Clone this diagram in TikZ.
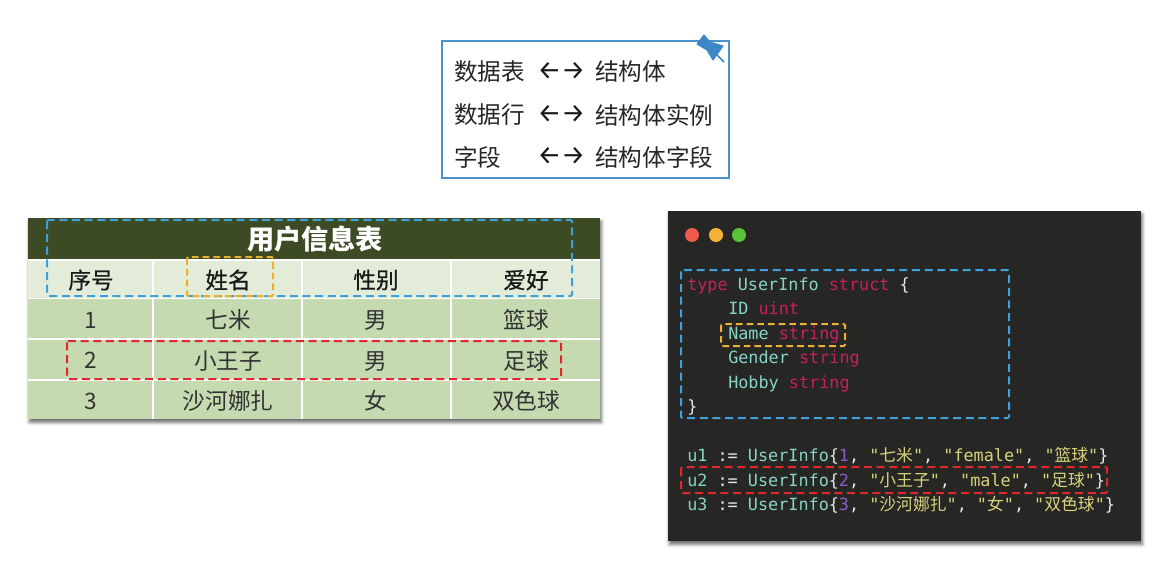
\documentclass[tikz,border=0pt]{standalone}
\usepackage{fontspec}
\setmainfont{Noto Sans CJK SC}
\setmonofont{DejaVu Sans Mono}
\newfontfamily\cjk{Noto Sans CJK SC}
\newfontfamily\cjkhead[FakeBold=0.5]{Noto Sans CJK SC}
\newfontfamily\arrowfont{Fira Sans}
\usetikzlibrary{arrows.meta,positioning,calc,shadows.blur}
\usepackage{xcolor}
\definecolor{noteblue}{HTML}{4A94CC}
\definecolor{pinblue}{HTML}{3D87C8}
\definecolor{titlegreen}{HTML}{3D4B24}
\definecolor{headfill}{HTML}{E2ECD9}
\definecolor{rowfill}{HTML}{C5DAB0}
\definecolor{panelfill}{HTML}{262624}
\definecolor{dashblue}{HTML}{3FA0DC}
\definecolor{dashorange}{HTML}{EBB02F}
\definecolor{dashred}{HTML}{E0272B}
\definecolor{codered}{HTML}{C91F5A}
\definecolor{codecyan}{HTML}{86D3C8}
\definecolor{codeyellow}{HTML}{D9D27C}
\definecolor{codepurple}{HTML}{8A5CC4}
\definecolor{codewhite}{HTML}{E6E6E6}
\definecolor{dotred}{HTML}{EE5A4E}
\definecolor{dotorange}{HTML}{F5B335}
\definecolor{dotgreen}{HTML}{5CC33F}
\newcommand{\kw}[1]{\textcolor{codered}{#1}}
\newcommand{\ty}[1]{\textcolor{codecyan}{#1}}
\newcommand{\st}[1]{\textcolor{codeyellow}{#1}}
\newcommand{\nm}[1]{\textcolor{codepurple}{#1}}
\newcommand{\zh}[1]{{\cjk #1}}
\tikzset{
  maptext/.style={anchor=west,inner sep=0pt,text=black!85,font=\fontsize{17.7}{20}\selectfont},
  arrowtext/.style={anchor=west,inner sep=0pt,text=black!90,font=\fontsize{20}{22}\arrowfont},
  titlecell/.style={inner sep=0pt,text=white,font=\fontsize{20.4}{22}\selectfont\bfseries},
  headcell/.style={inner sep=0pt,text=black!90,font=\fontsize{17}{20}\cjkhead},
  bodycell/.style={inner sep=0pt,text=black!80,font=\fontsize{17}{20}\selectfont},
  codeline/.style={anchor=base west,inner sep=0pt,text=codewhite,font=\fontsize{12.6}{15}\ttfamily},
  bluedash/.style={draw=dashblue,line width=1.5pt,dash pattern=on 6pt off 3.5pt},
  orangedash/.style={draw=dashorange,line width=1.5pt,dash pattern=on 5pt off 3pt},
  reddash/.style={draw=dashred,line width=1.5pt,dash pattern=on 6pt off 3.5pt},
  celldiv/.style={draw=white,line width=1.2pt}
}
\begin{document}
\begin{tikzpicture}[x=0.75pt,y=-0.75pt]
  \useasboundingbox (0,0) rectangle (1172,578);
  % note on top
  \draw[noteblue,line width=1.1pt,fill=white] (442,41) rectangle (729,178);
  \node[maptext] (tablea) at (454,72) {数据表};
  \node[maptext] (rowa) at (454,115) {数据行};
  \node[maptext] (fielda) at (454,157) {字段};
  \node[arrowtext] (tablearrow) at (537,71) {←→};
  \node[arrowtext] (rowarrow) at (537,114) {←→};
  \node[arrowtext] (fieldarrow) at (537,156) {←→};
  \node[maptext] (tableb) at (595,72) {结构体};
  \node[maptext] (rowb) at (595,115) {结构体实例};
  \node[maptext] (fieldb) at (595,157) {结构体字段};
  \filldraw[pinblue,line width=0.8pt,line join=round] (697,44) -- (704,35) -- (710,42) -- (723,46) -- (713,60) -- (707,50) -- cycle;
  \draw[pinblue,line width=1.2pt] (712,50) -- (724,62);
  % table
  \fill[black!45,blur shadow={shadow xshift=1pt,shadow yshift=-2.5pt,shadow blur radius=2.5pt,shadow opacity=60}] (28,218) rectangle (600,419);
  \fill[white] (28,218) rectangle (600,419);
  \fill[titlegreen] (28,218) rectangle (600,259);
  \fill[headfill] (28,261) rectangle (600,298);
  \fill[rowfill] (28,299) rectangle (600,338);
  \fill[rowfill] (28,340) rectangle (600,379);
  \fill[rowfill] (28,381) rectangle (600,419);
  \draw[celldiv] (153,261) -- (153,419);
  \draw[celldiv] (302,261) -- (302,419);
  \draw[celldiv] (451,261) -- (451,419);
  \node[titlecell] (tabletitle) at (315,239) {用户信息表};
  \node[headcell] (headno) at (91,280) {序号};
  \node[headcell] (headname) at (228,280) {姓名};
  \node[headcell] (headsex) at (376,280) {性别};
  \node[headcell] (headhobby) at (526,280) {爱好};
  \node[bodycell] (noa) at (91,320) {1};
  \node[bodycell] (namea) at (228,320) {七米};
  \node[bodycell] (sexa) at (376,320) {男};
  \node[bodycell] (hobbya) at (526,320) {篮球};
  \node[bodycell] (nob) at (91,360) {2};
  \node[bodycell] (nameb) at (228,361) {小王子};
  \node[bodycell] (sexb) at (376,361) {男};
  \node[bodycell] (hobbyb) at (526,361) {足球};
  \node[bodycell] (noc) at (91,401) {3};
  \node[bodycell] (namec) at (228,401) {沙河娜扎};
  \node[bodycell] (sexc) at (376,401) {女};
  \node[bodycell] (hobbyc) at (526,401) {双色球};
  \draw[bluedash,rounded corners=1pt] (47,220) rectangle (572,296);
  \draw[orangedash,rounded corners=1pt] (187,257) rectangle (273,296);
  \draw[reddash,rounded corners=1pt] (67,341) rectangle (561,379);
  % code window
  \fill[panelfill,blur shadow={shadow xshift=1pt,shadow yshift=-2.5pt,shadow blur radius=2.5pt,shadow opacity=60}] (668,211) rectangle (1141,541);
  \fill[dotred] (692,235) circle (7);
  \fill[dotorange] (716,235) circle (7);
  \fill[dotgreen] (739,235) circle (7);
  \node[codeline] (typeline) at (687,290) {\kw{type} \ty{UserInfo} \kw{struct} \{};
  \node[codeline] (idline) at (728,314) {\ty{ID} \kw{uint}};
  \node[codeline] (nameline) at (728,339) {\ty{Name} \kw{string}};
  \node[codeline] (genderline) at (728,363) {\ty{Gender} \kw{string}};
  \node[codeline] (hobbyline) at (728,388) {\ty{Hobby} \kw{string}};
  \node[codeline] (closeline) at (687,412) {\}};
  \node[codeline] (linea) at (687,461) {\ty{u1} := \ty{UserInfo}\{\nm{1}, \st{"\zh{七米}"}, \st{"female"}, \st{"\zh{篮球}"}\}};
  \node[codeline] (lineb) at (687,486) {\ty{u2} := \ty{UserInfo}\{\nm{2}, \st{"\zh{小王子}"}, \st{"male"}, \st{"\zh{足球}"}\}};
  \node[codeline] (linec) at (687,510) {\ty{u3} := \ty{UserInfo}\{\nm{3}, \st{"\zh{沙河娜扎}"}, \st{"\zh{女}"}, \st{"\zh{双色球}"}\}};
  \draw[bluedash,rounded corners=1pt] (681,270) rectangle (1009,418);
  \draw[orangedash,rounded corners=1pt] (721,324) rectangle (845,346);
  \draw[reddash,rounded corners=1pt] (681,467) rectangle (1107,493);
\end{tikzpicture}
\end{document}
